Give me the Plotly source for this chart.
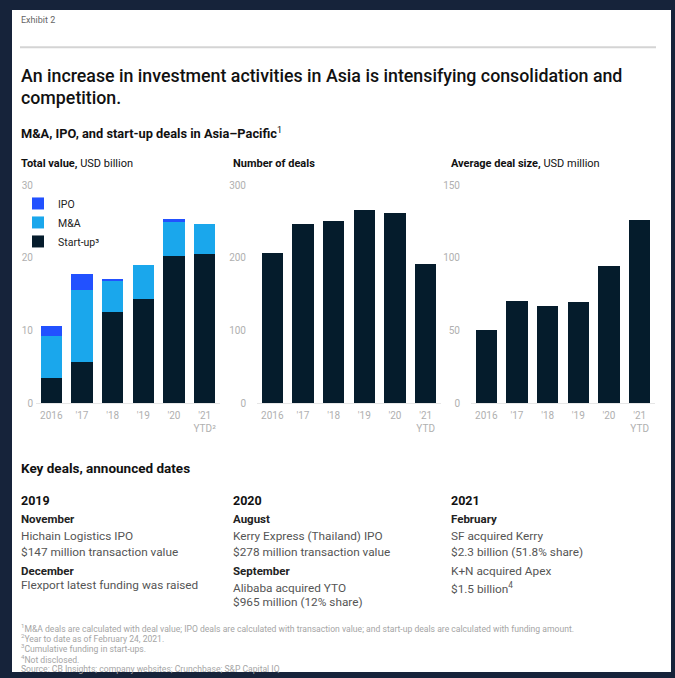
import plotly.graph_objects as go

W, H = 675, 678

# ---------------- data ----------------
years = ["2016", "'17", "'18", "'19", "'20", "'21<br>YTD²"]
years_mid = ["2016", "'17", "'18", "'19", "'20", "'21<br>YTD"]
years_right = ["2016", "'17", "'18", "'19", "'20", "'21<br>YTD"]

startup_value = [3.5, 5.7, 12.5, 14.4, 20.2, 20.5]
ma_value = [5.75, 9.9, 4.4, 4.6, 4.7, 4.2]
ipo_value = [1.4, 2.2, 0.2, 0.0, 0.4, 0.0]

number_of_deals = [207, 247, 251, 266, 261, 192]
avg_deal_size = [50.7, 70.5, 66.9, 69.4, 94.6, 126]

y_ticks_left = [0, 10, 20, 30]
y_ticks_mid = [0, 100, 200, 300]
y_ticks_right = [0, 50, 100, 150]

C_START = "#051C2C"
C_MA = "#1AA7EC"
C_IPO = "#2251FF"
BG = "#16233A"
FONT = "Roboto"

def px(x):
    return x / W

def py(y):
    return 1 - y / H

fig = go.Figure()

fig.add_trace(go.Bar(x=years, y=startup_value, name="Start-up³", marker=dict(color=C_START, line=dict(width=0)),
                     xaxis="x", yaxis="y"))
fig.add_trace(go.Bar(x=years, y=ma_value, name="M&A", marker=dict(color=C_MA, line=dict(width=0)),
                     xaxis="x", yaxis="y"))
fig.add_trace(go.Bar(x=years, y=ipo_value, name="IPO", marker=dict(color=C_IPO, line=dict(width=0)),
                     xaxis="x", yaxis="y"))
fig.add_trace(go.Bar(x=years_mid, y=number_of_deals, marker=dict(color=C_START, line=dict(width=0)),
                     showlegend=False, xaxis="x2", yaxis="y2"))
fig.add_trace(go.Bar(x=years_right, y=avg_deal_size, marker=dict(color=C_START, line=dict(width=0)),
                     showlegend=False, xaxis="x3", yaxis="y3"))

ydom = [py(405), py(183)]
tickfont = dict(family=FONT, size=10, color="#B0B0B0")

def xax(dom, anchor):
    return dict(domain=[px(dom[0]), px(dom[1])], anchor=anchor, showgrid=False, zeroline=False,
                showline=True, linecolor="#E6E6E6", linewidth=1, ticks="", tickfont=tickfont,
                ticklabelstandoff=3, fixedrange=True)

def yax(dom_anchor, rng, ticks, standoff):
    return dict(domain=ydom, anchor=dom_anchor, range=rng, tickvals=ticks, showgrid=False,
                zeroline=False, showline=False, ticks="", tickfont=tickfont,
                ticklabelstandoff=standoff, fixedrange=True)

fig.update_layout(
    width=W, height=H,
    margin=dict(l=0, r=0, t=0, b=0),
    paper_bgcolor=BG, plot_bgcolor="rgba(0,0,0,0)",
    barmode="stack", bargap=0.3,
    font=dict(family=FONT, color="#222"),
    xaxis=xax([36, 220], "y"),
    yaxis=yax("x", [0, 30], y_ticks_left, 2),
    xaxis2=xax([257, 441], "y2"),
    yaxis2=yax("x2", [0, 300], y_ticks_mid, 10),
    xaxis3=xax([471, 655], "y3"),
    yaxis3=yax("x3", [0, 150], y_ticks_right, 10),
    legend=dict(x=px(18), y=py(187), xanchor="left", yanchor="top", bgcolor="rgba(0,0,0,0)",
                font=dict(family=FONT, size=10.5, color="#222"), itemwidth=30,
                traceorder="reversed", tracegroupgap=0),
    showlegend=True,
)

# white card
fig.add_shape(type="rect", xref="paper", yref="paper", x0=px(12), x1=px(671), y0=0, y1=py(5),
              fillcolor="white", line=dict(width=0), layer="below")
# rule under "Exhibit 2"
fig.add_shape(type="line", xref="paper", yref="paper", x0=px(20), x1=px(656), y0=py(43), y1=py(43),
              line=dict(color="#D4D4D4", width=2))

anns = []

def txt(x, y, text, size, color="#222", weight=None, yanchor="middle"):
    f = dict(family=FONT, size=size, color=color)
    if weight:
        f["weight"] = weight
    anns.append(dict(x=px(x), y=py(y), xref="paper", yref="paper", text=text, showarrow=False,
                     xanchor="left", yanchor=yanchor, align="left", font=f))

txt(19, 15, "Exhibit 2", 9, "#666")
txt(19, 72, "An increase in investment activities in Asia is intensifying consolidation and", 17.8, "#111", 500)
txt(19, 94, "competition.", 17.8, "#111", 500)
txt(19, 130, "<b>M&A, IPO, and start-up deals in Asia–Pacific</b><sup>1</sup>", 12.8, "#111")

txt(19, 161, "<b>Total value,</b> USD billion", 11, "#111")
txt(231, 161, "<b>Number of deals</b>", 11, "#111")
txt(449, 161, "<b>Average deal size,</b> USD million", 11, "#111")

txt(19, 471, "<b>Key deals, announced dates</b>", 13.5, "#111")

cols = [
    (19, [("2019", 504, "b12"), ("November", 522, "b11"), ("Hichain Logistics IPO", 540, "r"),
          ("$147 million transaction value", 556, "r"), ("December", 575, "b11"),
          ("Flexport latest funding was raised", 590, "r")]),
    (231, [("2020", 504, "b12"), ("August", 522, "b11"), ("Kerry Express (Thailand) IPO", 540, "r"),
           ("$278 million transaction value", 556, "r"), ("September", 575, "b11"),
           ("Alibaba acquired YTO", 593, "r"), ("$965 million (12% share)", 607, "r")]),
    (449, [("2021", 504, "b12"), ("February", 522, "b11"), ("SF acquired Kerry", 540, "r"),
           ("$2.3 billion (51.8% share)", 556, "r"), ("K+N acquired Apex", 575, "r"),
           ("$1.5 billion<sup>4</sup>", 593, "r")]),
]
for x, items in cols:
    for t, y, style in items:
        if style == "b12":
            txt(x, y, f"<b>{t}</b>", 12.5, "#111")
        elif style == "b11":
            txt(x, y, f"<b>{t}</b>", 11.5, "#222")
        else:
            txt(x, y, t, 11.8, "#555")

foot = [
    "<sup>1</sup>M&A deals are calculated with deal value; IPO deals are calculated with transaction value; and start-up deals are calculated with funding amount.",
    "<sup>2</sup>Year to date as of February 24, 2021.",
    "<sup>3</sup>Cumulative funding in start-ups.",
    "<sup>4</sup>Not disclosed.",
    "Source: CB Insights; company websites; Crunchbase; S&P Capital IQ",
]
for i, t in enumerate(foot):
    txt(19, 633 + i * 10.5, t, 8.6, "#A5A5A5")

fig.update_layout(annotations=anns)

fig.write_html("out.html")
